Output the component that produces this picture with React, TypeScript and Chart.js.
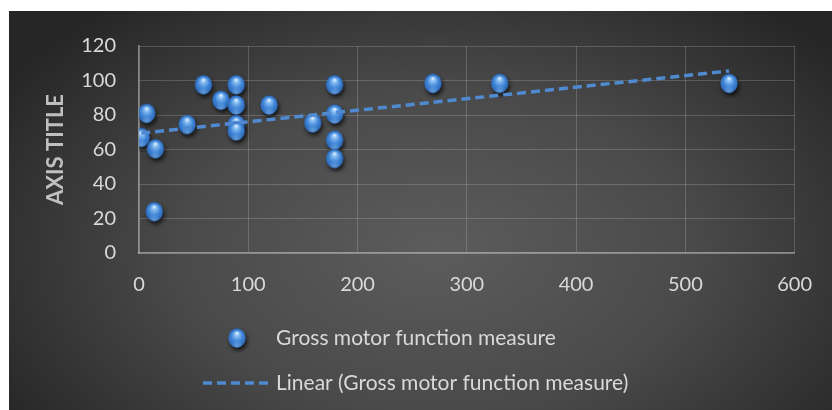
import React, { useEffect, useRef } from "react";
import { Chart, registerables } from "chart.js";

Chart.register(...registerables);

const seriesLabel = "Gross motor function measure";
const trendLabel = "Linear (Gross motor function measure)";
const axisTitle = "AXIS TITLE";

const xValues = [2, 7, 15, 14, 44, 59, 75, 89, 89, 89, 89, 119, 159, 179, 179, 179, 179, 269, 330, 540];
const yValues = [67, 81, 60.5, 24, 74.5, 97.6, 88.6, 97.6, 85.8, 74.5, 70.8, 85.8, 75.5, 97.6, 80.6, 65.5, 54.8, 98.4, 98.4, 98.4];

const trendX = [2, 540];
const trendY = [69.5, 105.5];

const xMin = 0, xMax = 600, xStep = 100;
const yMin = 0, yMax = 120, yStep = 20;

const FONT = "Lato, 'Open Sans', sans-serif";
const TEXT = "#d9d9d9";
const TREND = "#4f8ad0";

function makeSphere(): HTMLCanvasElement {
  const c = document.createElement("canvas");
  c.width = 30;
  c.height = 30;
  const g = c.getContext("2d")!;
  const cx = 15, cy = 15, rx = 8.5, ry = 9.5;
  g.save();
  g.shadowColor = "rgba(0,0,0,0.75)";
  g.shadowBlur = 4;
  g.shadowOffsetX = 1.5;
  g.shadowOffsetY = 3;
  g.beginPath();
  g.ellipse(cx, cy, rx, ry, 0, 0, Math.PI * 2);
  g.fillStyle = "#2b66b0";
  g.fill();
  g.restore();
  const grad = g.createRadialGradient(cx, cy - 5, 0.5, cx, cy + 1, 11);
  grad.addColorStop(0, "#dcefff");
  grad.addColorStop(0.18, "#84bbf2");
  grad.addColorStop(0.5, "#3f84d6");
  grad.addColorStop(0.85, "#2b64b2");
  grad.addColorStop(1, "#1d4a8c");
  g.beginPath();
  g.ellipse(cx, cy, rx, ry, 0, 0, Math.PI * 2);
  g.fillStyle = grad;
  g.fill();
  const grad2 = g.createRadialGradient(cx, cy + 8, 0, cx, cy + 8, 6);
  grad2.addColorStop(0, "rgba(140,195,245,0.55)");
  grad2.addColorStop(1, "rgba(140,195,245,0)");
  g.save();
  g.beginPath();
  g.ellipse(cx, cy, rx, ry, 0, 0, Math.PI * 2);
  g.clip();
  g.fillStyle = grad2;
  g.fillRect(0, 0, 30, 30);
  g.restore();
  return c;
}

export default function App() {
  const ref = useRef<HTMLCanvasElement | null>(null);

  useEffect(() => {
    if (!ref.current) return;
    const sphere = makeSphere();

    const bgPlugin = {
      id: "bg",
      beforeDraw(chart: any) {
        const { ctx, width, height } = chart;
        ctx.save();
        ctx.fillStyle = "#262626";
        ctx.fillRect(0, 0, width, height);
        ctx.translate(width * 0.52, height * 0.6);
        ctx.scale(1, 0.62);
        const r = width * 0.62;
        const g = ctx.createRadialGradient(0, 0, 0, 0, 0, r);
        g.addColorStop(0, "#5c5c5c");
        g.addColorStop(0.5, "#4a4a4a");
        g.addColorStop(1, "#262626");
        ctx.fillStyle = g;
        ctx.fillRect(-width, -height * 2, width * 2, height * 4);
        ctx.restore();
      },
    };

    const legendPlugin = {
      id: "customLegend",
      afterDraw(chart: any) {
        const { ctx } = chart;
        const ds = chart.data.datasets;
        ctx.save();
        ctx.font = `21px ${FONT}`;
        ctx.fillStyle = TEXT;
        ctx.textBaseline = "middle";
        ctx.textAlign = "left";
        const textX = 267;
        const row1 = 327;
        const row2 = 372;
        ctx.drawImage(sphere, 228 - 15, row1 - 15);
        ctx.fillText(ds[1].label, textX, row1);
        ctx.strokeStyle = TREND;
        ctx.lineWidth = 3.5;
        ctx.setLineDash([9, 5]);
        ctx.beginPath();
        ctx.moveTo(194, row2);
        ctx.lineTo(260, row2);
        ctx.stroke();
        ctx.setLineDash([]);
        ctx.fillText(ds[0].label, textX, row2);
        ctx.restore();
      },
    };

    const chart = new Chart(ref.current, {
      type: "scatter",
      data: {
        datasets: [
          {
            type: "line",
            label: trendLabel,
            data: trendX.map((x, i) => ({ x, y: trendY[i] })),
            borderColor: TREND,
            borderWidth: 3.5,
            borderDash: [9, 5],
            pointRadius: 0,
            fill: false,
            order: 1,
          } as any,
          {
            type: "scatter",
            label: seriesLabel,
            data: xValues.map((x, i) => ({ x, y: yValues[i] })),
            pointStyle: sphere as any,
            order: 2,
          },
        ],
      },
      options: {
        responsive: false,
        animation: false,
        events: [],
        layout: { padding: { top: 30, right: 34, left: 0, bottom: 0 } },
        plugins: {
          legend: { display: false },
          tooltip: { enabled: false },
        },
        scales: {
          x: {
            type: "linear",
            min: xMin,
            max: xMax,
            ticks: {
              stepSize: xStep,
              color: TEXT,
              font: { family: FONT, size: 20 },
              padding: 20,
            },
            grid: { color: "rgba(217,217,217,0.22)", lineWidth: 1, drawTicks: false },
            border: { color: "rgba(217,217,217,0.5)", width: 1.5 },
            afterFit(scale: any) {
              scale.height = 157;
            },
          },
          y: {
            type: "linear",
            min: yMin,
            max: yMax,
            ticks: {
              stepSize: yStep,
              color: TEXT,
              font: { family: FONT, size: 20 },
              padding: 23,
            },
            grid: { color: "rgba(217,217,217,0.22)", lineWidth: 1, drawTicks: false },
            border: { color: "rgba(217,217,217,0.5)", width: 1.5 },
            title: {
              display: true,
              text: axisTitle,
              color: "#bfbfbf",
              font: { family: FONT, size: 22, weight: "bold" },
              padding: { top: 34, bottom: 0 },
            },
            afterFit(scale: any) {
              scale.width = 130;
            },
          },
        },
      } as any,
      plugins: [bgPlugin, legendPlugin],
    });
    return () => chart.destroy();
  }, []);

  return (
    <div style={{ position: "absolute", left: 9, top: 11, width: 823, height: 399 }}>
      <canvas ref={ref} width={823} height={399} style={{ width: 823, height: 399, display: "block" }} />
    </div>
  );
}
